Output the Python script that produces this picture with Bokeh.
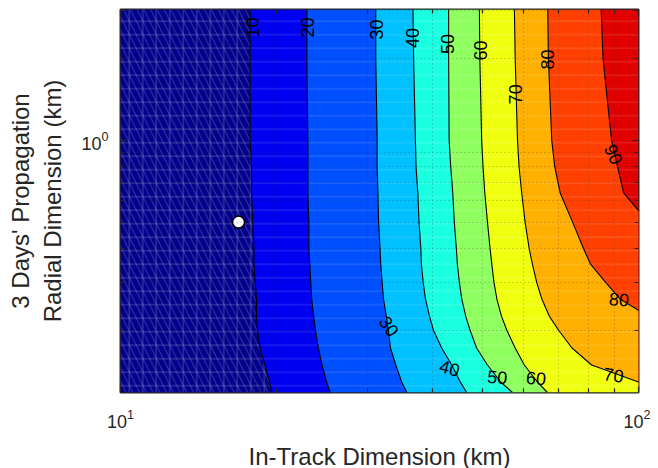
from bokeh.plotting import figure
from bokeh.models import FixedTicker, LogAxis, Range1d
from bokeh.embed import file_html
from bokeh.resources import INLINE
from bokeh.core.properties import value

# ---------------- data ----------------
x_limits = [10, 100]
y_limits = [0.118, 3.03]

x_major = [10, 100]
x_minor = [20, 30, 40, 50, 60, 70, 80, 90]
y_major = [1]
y_minor = [0.2, 0.3, 0.4, 0.5, 0.6, 0.7, 0.8, 0.9, 2, 3]

# radial dimension rows at which contour positions were read
y_rows = [3.03, 2.0, 1.0, 0.8, 0.64, 0.5, 0.4, 0.35, 0.3, 0.26, 0.225, 0.2, 0.172, 0.149, 0.129, 0.118]

levels = [10, 20, 30, 40, 50, 60, 70, 80, 90]
# in-track position of each contour level at the rows above
c10 = [17.8, 17.8, 17.8, 17.9, 17.9, 18.0, 18.1, 18.1, 18.2, 18.3, 18.3, 18.4, 18.6, 19.0, 19.4, 19.6]
c20 = [22.9, 22.9, 23.0, 23.0, 23.0, 23.1, 23.1, 23.2, 23.3, 23.4, 23.6, 23.8, 24.1, 24.5, 25.0, 25.4]
c30 = [31.1, 31.1, 31.3, 31.3, 31.4, 31.5, 31.7, 31.8, 32.0, 32.2, 32.6, 32.9, 33.2, 34.0, 34.9, 35.7]
c40 = [36.7, 36.8, 37.1, 37.2, 37.5, 37.7, 38.0, 38.1, 38.4, 38.8, 39.5, 40.2, 41.7, 43.6, 45.3, 46.6]
c50 = [43.0, 43.0, 43.1, 43.4, 43.8, 44.1, 44.5, 44.7, 45.1, 45.6, 46.4, 47.3, 48.7, 51.1, 54.2, 57.1]
c60 = [49.3, 49.4, 49.8, 50.1, 50.5, 51.1, 51.7, 52.1, 52.6, 53.3, 54.4, 55.7, 57.8, 60.2, 63.8, 66.7]
c70 = [57.6, 57.8, 58.4, 58.8, 59.5, 60.4, 61.5, 62.4, 63.6, 65.1, 67.3, 70.1, 74.4, 81.2, 100.0, 112.7]
c80 = [66.8, 67.0, 68.0, 68.9, 70.6, 74.6, 78.3, 80.8, 86.4, 92.3, 104.5, 117.9, 137.7, 164.5, 205.5, 234.8]
c90 = [84.7, 85.4, 88.7, 91.1, 93.6, 104.5, 126.0, 144.0, 164.5, 188.0, 214.8, 245.5, 280.5, 320.5, 366.2, 400.4]

band_colors = ["#00008b", "#0000f0", "#0050ff", "#00c0ff", "#1affe0",
               "#90ff60", "#f0ff10", "#ffb000", "#ff4000", "#e00000"]

label_text = ["10", "20", "30", "40", "50", "60", "70", "80", "90",
              "30", "40", "50", "60", "70", "80"]
label_x = [17.98, 22.96, 31.2, 36.7, 42.8, 49.5, 57.9, 66.7, 89.5,
           33.0, 43.2, 53.4, 63.4, 89.5, 91.7]
label_y = [2.60, 2.60, 2.56, 2.38, 2.26, 2.14, 1.476, 1.985, 0.888,
           0.207, 0.145, 0.1345, 0.1334, 0.1368, 0.260]
label_angle = [90, 90, 90, 90, 90, 90, 90, 90, -65,
               -55, -15, -5, -5, -8, -5]

point_x = [16.9]
point_y = [0.5]

x_title = "In-Track Dimension (km)"
y_title_lines = ["3 Days' Propagation", "Radial Dimension (km)"]

# ---------------- figure ----------------
FONT = "Liberation Sans"
TXT = "#262626"

p = figure(x_axis_type="log", y_axis_type="log",
           x_range=Range1d(*x_limits), y_range=Range1d(*y_limits),
           frame_width=518, frame_height=383,
           min_border_left=120, min_border_right=12, min_border_top=9, min_border_bottom=10,
           output_backend="svg", toolbar_location=None,
           background_fill_color="white", border_fill_color="white")

bottom_ax = p.below[0]
left_ax = p.left[0]

contours = [c10, c20, c30, c40, c50, c60, c70, c80, c90]
n = len(y_rows)
lefts = [[x_limits[0]] * n] + contours
rights = contours + [[x_limits[1]] * n]

for i in range(10):
    if i == 0:
        p.harea(x1=lefts[i], x2=rights[i], y=y_rows, fill_color=band_colors[i],
                hatch_pattern="cross", hatch_color="white", hatch_alpha=0.27,
                hatch_scale=13.5, hatch_weight=1)
        p.harea(x1=lefts[i], x2=rights[i], y=y_rows, fill_alpha=0,
                hatch_pattern="left_diagonal_line", hatch_color="white", hatch_alpha=0.22,
                hatch_scale=13.5, hatch_weight=1)
    else:
        p.harea(x1=lefts[i], x2=rights[i], y=y_rows, fill_color=band_colors[i],
                hatch_pattern="horizontal_line", hatch_color="white", hatch_alpha=0.18,
                hatch_scale=13.5, hatch_weight=1)

for c in contours:
    p.line(x=c, y=y_rows, line_color="black", line_width=1.1)

p.text(x=label_x, y=label_y, text=label_text, angle=label_angle, angle_units="deg",
       text_font=value(FONT), text_font_size=value("18px"), text_color="black",
       text_align="center", text_baseline="middle")

p.scatter(x=point_x, y=point_y, size=12, fill_color="white", line_color="black", line_width=1.5)

# ---------------- axes ----------------
xt = FixedTicker(ticks=x_major, minor_ticks=x_minor)
yt = FixedTicker(ticks=y_major, minor_ticks=y_minor)
bottom_ax.ticker = xt
left_ax.ticker = yt

top_ax = LogAxis(ticker=FixedTicker(ticks=x_major, minor_ticks=x_minor),
                 major_label_text_font_size="1px", major_label_text_color=None,
                 major_label_standoff=0)
right_ax = LogAxis(ticker=FixedTicker(ticks=y_major, minor_ticks=y_minor),
                   major_label_text_font_size="1px", major_label_text_color=None,
                   major_label_standoff=0)
p.add_layout(top_ax, "above")
p.add_layout(right_ax, "right")

for ax in [bottom_ax, left_ax, top_ax, right_ax]:
    ax.axis_line_color = None
    ax.major_tick_in = 6
    ax.major_tick_out = 0
    ax.minor_tick_in = 4
    ax.minor_tick_out = 0
    ax.major_tick_line_color = TXT
    ax.minor_tick_line_color = TXT
    ax.major_tick_line_width = 1.2
    ax.minor_tick_line_width = 1.2

for ax in [bottom_ax, left_ax]:
    ax.major_label_text_font = FONT
    ax.major_label_text_font_size = "18px"
    ax.major_label_text_color = TXT
    ax.axis_label_text_font = FONT
    ax.axis_label_text_font_size = "24px"
    ax.axis_label_text_font_style = "normal"
    ax.axis_label_text_color = TXT

bottom_ax.axis_label = x_title
left_ax.axis_label = "\n".join(y_title_lines)
bottom_ax.major_label_standoff = 16
left_ax.major_label_standoff = 12
bottom_ax.axis_label_standoff = 12
left_ax.axis_label_standoff = 12

p.xgrid.ticker = xt
p.ygrid.ticker = yt
for g in [p.xgrid[0], p.ygrid[0]]:
    g.level = "annotation"
    g.grid_line_color = None
    g.minor_grid_line_color = TXT
    g.minor_grid_line_alpha = 0.35
    g.minor_grid_line_dash = "1 3"

p.outline_line_color = TXT
p.outline_line_width = 2
p.outline_line_alpha = 1

open("out.html", "w").write(file_html(p, INLINE))
